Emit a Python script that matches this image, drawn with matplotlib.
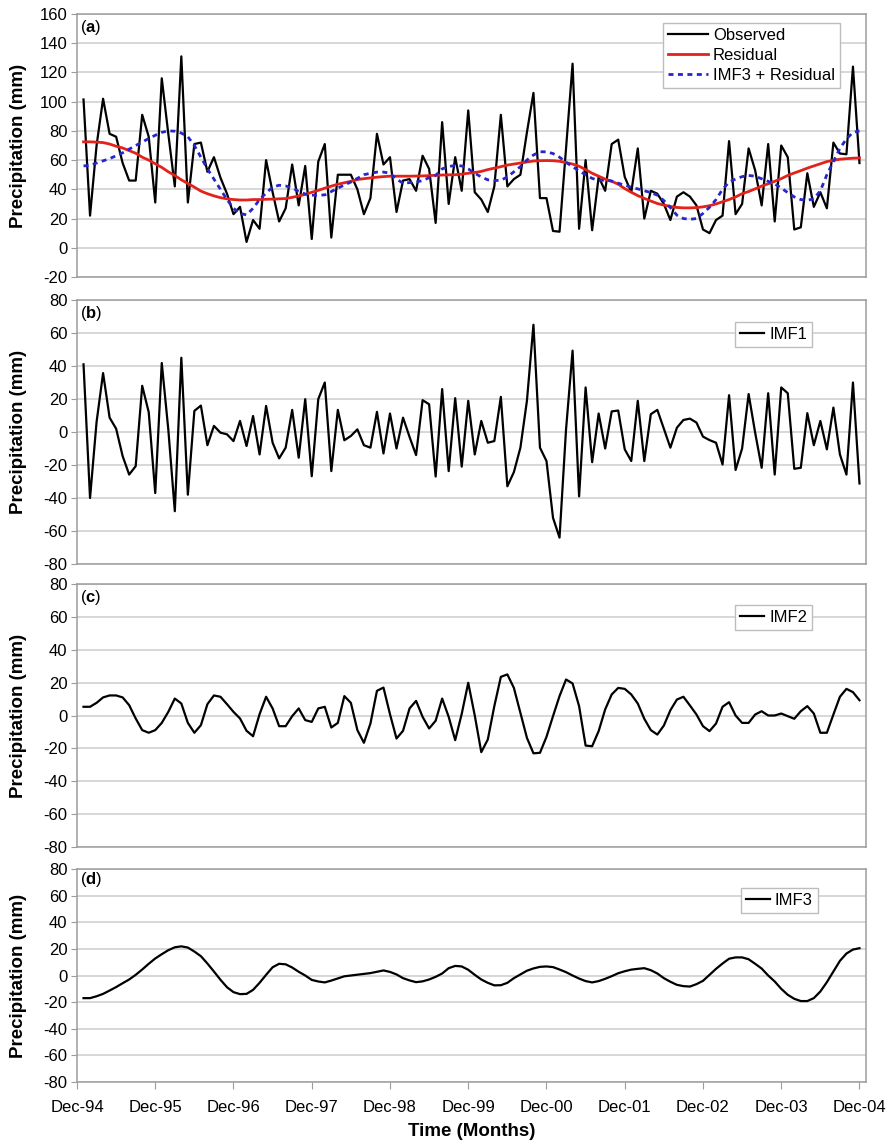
import matplotlib
matplotlib.use('Agg')
import matplotlib.pyplot as plt
import numpy as np

plt.rcParams['font.family'] = ['Liberation Sans', 'DejaVu Sans']
plt.rcParams['mathtext.fontset'] = 'custom'
plt.rcParams['mathtext.rm'] = 'Liberation Sans'
plt.rcParams['mathtext.bf'] = 'Liberation Sans:bold'
plt.rcParams['axes.unicode_minus'] = False

# month ticks (every December), data runs Jan-95 .. Dec-04
tick_labels = ['Dec-94', 'Dec-95', 'Dec-96', 'Dec-97', 'Dec-98', 'Dec-99',
               'Dec-00', 'Dec-01', 'Dec-02', 'Dec-03', 'Dec-04']

observed = [101.5, 22, 70, 102, 78, 76, 58, 46, 46, 91,
            76, 31, 116, 78, 42, 131, 31, 71, 72, 52,
            62, 48, 37, 23, 28, 4, 19, 13, 60, 38,
            18, 27, 57, 29, 56, 6, 59, 71, 7, 50,
            50, 50, 40, 23, 34, 78, 57, 62, 24.5, 46,
            47, 39, 63, 54, 17, 86, 30, 62, 39, 94,
            38, 33, 24.5, 42, 91, 42, 47, 50, 79, 106,
            34, 34, 11.5, 11, 68, 126, 13, 60, 12, 48.5,
            39, 71, 74, 48.5, 38, 68, 20, 39, 37, 30,
            19, 35, 38, 35, 29, 12.5, 10, 19, 22, 73,
            23, 30, 68, 53, 29, 71, 18, 70, 62, 12.5,
            14, 51, 28, 38, 27, 72, 64.5, 64, 124, 58]

residual = [72.5, 72.5, 72.3, 72, 71, 69.5, 68.3, 66.5, 64.7, 62,
            60, 57.5, 55, 52, 49.5, 46.5, 44, 41.5, 38.8, 37,
            35.5, 34.3, 33.5, 33, 32.7, 32.7, 33, 33, 33.2, 33.3,
            33.5, 33.7, 34.5, 35.5, 36.5, 38, 39.3, 40.8, 42.2, 43.5,
            44.5, 45.5, 46.7, 47.3, 47.8, 48.3, 48.7, 49, 49, 49,
            49, 49.1, 49.2, 49.4, 49.6, 49.8, 49.9, 50, 50.4, 51,
            51.5, 52.3, 53.5, 54.5, 55.5, 56.6, 57.3, 58, 58.7, 59.4,
            59.6, 59.7, 59.6, 59.2, 58.3, 57.3, 55.8, 53.5, 51, 49,
            47, 45.5, 43.5, 40.5, 38, 35.7, 33.8, 32, 30.3, 29.2,
            28.3, 27.6, 27.3, 27.3, 27.5, 28, 28.8, 30, 31.5, 33,
            34.8, 37, 38.5, 40.3, 42.2, 43.8, 45.5, 47.3, 49.5, 51.2,
            52.8, 54.5, 56, 57.5, 59, 59.8, 60.6, 61, 61.3, 61.5]

imf3_residual = [56, 56.5, 58, 59.5, 61, 63, 65, 67.5, 70, 72.3,
                 74.8, 77, 79, 80, 79.8, 78.5, 76, 70, 62, 54,
                 47, 40, 33, 27, 23.5, 22.5, 27, 33, 37.5, 41.5,
                 42.8, 42.3, 41, 38.5, 36.8, 36, 36, 36.2, 38.5, 40.8,
                 43, 45, 47.5, 50, 51, 51.8, 51.8, 51, 47, 44.2,
                 44.6, 45, 46, 48, 49.5, 54, 55.5, 56.5, 56, 54,
                 51, 48.5, 46.5, 46, 46.2, 48.5, 52, 55.5, 60, 63.5,
                 65.7, 65.7, 64.5, 62, 58.5, 55.5, 52.5, 50, 47.5, 46,
                 46.3, 45.7, 44.2, 42.8, 41.5, 40.3, 39, 37.8, 36, 32.3,
                 27.5, 22.3, 20, 19.5, 20, 23.5, 27.7, 33, 40, 45,
                 47, 48.7, 49.5, 49, 47.2, 45.5, 43.7, 41, 37.7, 34.8,
                 33, 32.5, 33.5, 39, 50, 59, 68, 74.5, 79, 80]

imf1 = [41, -40, 6, 35.7, 8.7, 2, -14.6, -25.8, -20.7, 28,
        12, -37, 41.8, 1.6, -48, 45, -38, 12.8, 16, -8,
        3.7, -0.4, -1.4, -5.5, 6.7, -8.5, 9.7, -13.6, 15.8, -6.5,
        -16, -9.5, 13.4, -15.6, 19.9, -26.8, 19.9, 30, -23.7, 13.4,
        -5, -2.4, 1.6, -8, -9.5, 12.2, -13, 11.2, -10, 8.7,
        -3, -14, 19.3, 16.8, -27, 26, -23.7, 20.5, -21, 18.9,
        -13.6, 6.7, -6.5, -5.5, 21.3, -32.9, -24.3, -9.5, 18.9, 65,
        -9.5, -17.6, -52, -64, 1.6, 49.3, -39, 27, -18.3, 11.2,
        -10, 12.5, 13, -10.5, -17.6, 18.9, -17.6, 10.8, 13.4, 2,
        -9.5, 2.6, 7.3, 8.1, 5.7, -2.8, -4.9, -6.5, -19.7, 22.3,
        -23, -10, 23, -0.4, -21.7, 23.5, -25.8, 27, 23.5, -22.3,
        -21.7, 11.4, -8, 6.7, -10.5, 14.8, -13.6, -25.8, 30, -31.2]

imf2 = [5.3, 5.3, 7.7, 11, 12.2, 12.2, 11, 6.3, -1.8, -8.9,
        -10.5, -8.9, -4.5, 2.2, 10.3, 7.3, -4.5, -10.5, -5.9, 6.9,
        12.2, 11.4, 6.9, 2.2, -1.8, -9.3, -12.6, 0.8, 11.4, 4.3,
        -6.5, -6.5, -0.4, 4.3, -2.8, -3.9, 4.3, 5.3, -7.3, -4.5,
        11.8, 7.7, -8.9, -16.6, -4.9, 15, 17, 0.8, -14, -9.3,
        4.3, 8.9, -0.8, -7.9, -3.2, 10.3, -0.8, -15, 1, 19.9,
        0, -22.3, -14.6, 5.7, 23.5, 25, 16.8, 1.6, -13.6, -23,
        -22.7, -13, -0.4, 11.8, 21.9, 19.5, 5.7, -18.3, -18.7, -9.5,
        3.7, 12.8, 16.8, 16.2, 12.8, 7.3, -2, -8.9, -11.6, -6.1,
        3.2, 9.7, 11.4, 6.1, 0.6, -6.5, -9.5, -4.9, 5.3, 8.1,
        0, -4.5, -4.5, 0.6, 2.6, 0, 0, 1.2, -0.4, -2,
        2.6, 5.7, 1.2, -10.5, -10.5, 0.6, 11.4, 16.2, 14.2, 9.3]

imf3 = [-17, -17, -15.6, -13.8, -11.3, -8.7, -5.8, -3, 0.5, 4.5,
        8.8, 12.8, 16, 19, 21.2, 21.9, 21, 18, 14.5, 9,
        3, -3.2, -8.8, -12.5, -14, -13.8, -10.8, -5.5, 0.5, 6.2,
        8.8, 8.4, 6, 2.8, 0, -3.3, -4.5, -5.2, -3.8, -2.2,
        -0.6, 0, 0.6, 1.2, 1.8, 2.8, 3.8, 2.7, 0.8, -2,
        -3.7, -5, -4.4, -3, -1, 1.5, 5.5, 7.2, 6.8, 4.3,
        0.5, -3, -5.5, -7.4, -7.3, -5.5, -2, 0.8, 3.6, 5.3,
        6.5, 6.8, 6.3, 4.5, 2.5, 0, -2.3, -4.2, -5.2, -4.2,
        -2.5, -0.5, 1.7, 3.2, 4.4, 5, 5.5, 4, 1.5, -2,
        -4.7, -7, -8, -8.3, -6.5, -4, 0.5, 5, 9, 12.6,
        13.6, 13.6, 12.2, 8.8, 5.2, 0, -4.5, -10, -14.5, -17.5,
        -19.2, -19.2, -17, -12, -5, 3, 11, 16.5, 19.5, 20.5]

months = np.arange(1, len(observed) + 1)
tick_pos = np.arange(0, 121, 12)

GRID = '#cdcdcd'
SPINE = '#9c9c9c'
RED = '#e2231c'
BLUE = '#2626cc'


def style_axes(ax, ylim, letter, bottom=False):
    ax.set_xlim(0, 121)
    ax.set_ylim(*ylim)
    ax.set_yticks(np.arange(ylim[0], ylim[1] + 1, 20))
    ax.grid(axis='y', color=GRID, linewidth=1.1)
    ax.set_axisbelow(True)
    for sp in ax.spines.values():
        sp.set_color(SPINE)
        sp.set_linewidth(1.1)
    ax.tick_params(axis='y', length=4, color=SPINE, labelsize=12, pad=3)
    ax.set_xticks(tick_pos)
    if bottom:
        ax.set_xticklabels(tick_labels)
        ax.tick_params(axis='x', length=5, color=SPINE, labelsize=12, pad=8)
        ax.set_xlabel('Time (Months)', fontsize=13.5, fontweight='bold', labelpad=6)
    else:
        ax.tick_params(axis='x', length=0, labelbottom=False)
    ax.set_ylabel('Precipitation (mm)', fontsize=13.5, fontweight='bold')
    ax.yaxis.set_label_coords(-0.064, 0.5)
    ax.text(0.004, 0.95, r'($\mathbf{' + letter + r'}$)', transform=ax.transAxes,
            fontsize=12, va='center', ha='left')


def add_legend(ax, anchor, hlen):
    leg = ax.legend(loc='upper right', bbox_to_anchor=anchor, fontsize=12,
                    frameon=True, fancybox=False, framealpha=1,
                    edgecolor='#bdbdbd', borderaxespad=0, borderpad=0.3,
                    labelspacing=0.3, handlelength=hlen, handletextpad=0.3)
    leg.get_frame().set_linewidth(1.0)


fig = plt.figure(figsize=(8.89, 11.42), dpi=100)
left, width = 77 / 889, 789 / 889
ax_a = fig.add_axes([left, 1 - 277 / 1142, width, 263 / 1142])
ax_b = fig.add_axes([left, 1 - 564 / 1142, width, 264 / 1142])
ax_c = fig.add_axes([left, 1 - 847 / 1142, width, 263 / 1142])
ax_d = fig.add_axes([left, 1 - 1082 / 1142, width, 213 / 1142])

# (a) observed, residual, imf3 + residual
ax_a.plot(months, observed, color='black', linewidth=1.6, label='Observed')
ax_a.plot(months, residual, color=RED, linewidth=2.0, label='Residual')
ax_a.plot(months, imf3_residual, color=BLUE, linewidth=2.0,
          dashes=(1.8, 1.6), label='IMF3 + Residual')
style_axes(ax_a, (-20, 160), 'a')
add_legend(ax_a, (0.967, 0.966), 2.4)

# (b) imf1
ax_b.plot(months, imf1, color='black', linewidth=1.6, label='IMF1')
style_axes(ax_b, (-80, 80), 'b')
add_legend(ax_b, (0.932, 0.917), 1.45)

# (c) imf2
ax_c.plot(months, imf2, color='black', linewidth=1.6, label='IMF2')
style_axes(ax_c, (-80, 80), 'c')
add_legend(ax_c, (0.932, 0.920), 1.45)

# (d) imf3
ax_d.plot(months, imf3, color='black', linewidth=1.6, label='IMF3')
style_axes(ax_d, (-80, 80), 'd', bottom=True)
add_legend(ax_d, (0.939, 0.911), 1.45)

fig.savefig('out.png', dpi=100)
